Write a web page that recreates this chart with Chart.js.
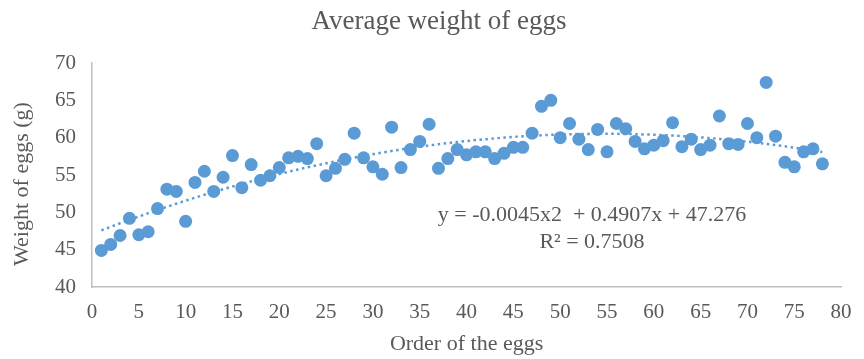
<!DOCTYPE html>
<html>
<head>
<meta charset="utf-8">
<script src="https://cdn.jsdelivr.net/npm/chart.js@4"></script>
<style>
  html, body { margin: 0; padding: 0; background: #ffffff; }
  #wrap { width: 864px; height: 359px; }
</style>
</head>
<body>
<div id="wrap"><canvas id="chart" width="864" height="359"></canvas></div>
<script>
// Data
const chartTitle = 'Average weight of eggs';
const xTitle = 'Order of the eggs';
const yTitle = 'Weight of eggs (g)';
const equationLines = ['y = -0.0045x2  + 0.4907x + 47.276', 'R² = 0.7508'];

// weight (g) of each egg, in laying order 1..78
const eggWeights = [
    44.9, 45.7, 46.9, 49.2, 47.0, 47.4, 50.5, 53.1, 52.8, 48.8,
    54.0, 55.5, 52.8, 54.7, 57.6, 53.3, 56.4, 54.3, 54.9, 56.0,
    57.3, 57.5, 57.2, 59.2, 54.9, 55.9, 57.1, 60.6, 57.3, 56.1,
    55.1, 61.4, 56.0, 58.4, 59.5, 61.8, 55.9, 57.2, 58.4, 57.7,
    58.1, 58.1, 57.2, 57.9, 58.7, 58.7, 60.6, 64.2, 65.0, 60.0,
    61.9, 59.8, 58.4, 61.1, 58.1, 61.9, 61.2, 59.5, 58.5, 59.0,
    59.6, 62.0, 58.8, 59.8, 58.4, 59.0, 62.9, 59.2, 59.1, 61.9,
    60.0, 67.4, 60.2, 56.7, 56.1, 58.1, 58.5, 56.5
];
const eggOrder = Array.from({ length: eggWeights.length }, (_, i) => i + 1);

const xMin = 0, xMax = 80, xStep = 5;
const yMin = 40, yMax = 70, yStep = 5;

const pointColor = '#5b9bd5';
const textColor = '#595959';
const axisColor = '#bfbfbf';
const serif = "'Liberation Serif', 'Times New Roman', serif";

// Polynomial (order 2) least-squares trendline, as the spreadsheet does
function quadFit(xs, ys) {
    const s = [0, 0, 0, 0, 0];
    const t = [0, 0, 0];
    xs.forEach((x, i) => {
        for (let k = 0; k < 5; k++) s[k] += Math.pow(x, k);
        for (let k = 0; k < 3; k++) t[k] += ys[i] * Math.pow(x, k);
    });
    const m = [[s[0], s[1], s[2]], [s[1], s[2], s[3]], [s[2], s[3], s[4]]];
    const det = a => a[0][0] * (a[1][1] * a[2][2] - a[1][2] * a[2][1])
        - a[0][1] * (a[1][0] * a[2][2] - a[1][2] * a[2][0])
        + a[0][2] * (a[1][0] * a[2][1] - a[1][1] * a[2][0]);
    const d = det(m);
    return [0, 1, 2].map(col => {
        const mc = m.map((row, r) => row.map((v, c) => (c === col ? t[r] : v)));
        return det(mc) / d;
    });
}

const coef = quadFit(eggOrder, eggWeights);
const trendPoints = eggOrder.map(x => ({ x, y: coef[0] + coef[1] * x + coef[2] * x * x }));
const eggPoints = eggOrder.map((x, i) => ({ x, y: eggWeights[i] }));

// Title, trendline label and the rotated y title, drawn by hand
const extraText = {
    id: 'extraText',
    afterDraw(chart) {
        const ctx = chart.ctx;
        ctx.save();
        ctx.fillStyle = textColor;
        ctx.textAlign = 'center';
        ctx.textBaseline = 'middle';

        ctx.font = '27px ' + serif;
        ctx.fillText(chartTitle, 439, 22);

        ctx.font = '22px ' + serif;
        ctx.fillText(equationLines[0], 592, 215);
        ctx.fillText(equationLines[1], 592, 242);

        ctx.translate(22, 184);
        ctx.rotate(-Math.PI / 2);
        ctx.fillText(yTitle, 0, 0);
        ctx.restore();
    }
};

new Chart(document.getElementById('chart'), {
    type: 'scatter',
    data: {
        datasets: [
            {
                label: 'Eggs',
                data: eggPoints,
                backgroundColor: pointColor,
                borderWidth: 0,
                pointRadius: 6.5,
                pointHoverRadius: 6.5,
                order: 1
            },
            {
                label: 'Trend',
                type: 'line',
                data: trendPoints,
                borderColor: pointColor,
                borderWidth: 2.5,
                borderDash: [2.5, 3.5],
                pointRadius: 0,
                fill: false,
                tension: 0,
                order: 2
            }
        ]
    },
    options: {
        responsive: false,
        animation: false,
        layout: { padding: { top: 63, right: 13, bottom: 0, left: 0 } },
        plugins: {
            legend: { display: false },
            tooltip: { enabled: false },
            title: { display: false }
        },
        scales: {
            x: {
                type: 'linear',
                min: xMin,
                max: xMax,
                ticks: { stepSize: xStep, color: textColor, font: { family: serif, size: 21 }, padding: 12.4, maxRotation: 0 },
                grid: { display: false, drawTicks: false },
                border: { display: true, color: axisColor, width: 1.5 },
                title: { display: true, text: xTitle, color: textColor, font: { family: serif, size: 22 }, padding: { top: 0, bottom: 1.8 } },
                afterFit(scale) { scale.height = 72; }
            },
            y: {
                min: yMin,
                max: yMax,
                ticks: { stepSize: yStep, color: textColor, font: { family: serif, size: 21 }, padding: 16 },
                grid: { display: false, drawTicks: false },
                border: { display: true, color: axisColor, width: 1.5 },
                afterFit(scale) { scale.width = 92; }
            }
        }
    },
    plugins: [extraText]
});
</script>
</body>
</html>
